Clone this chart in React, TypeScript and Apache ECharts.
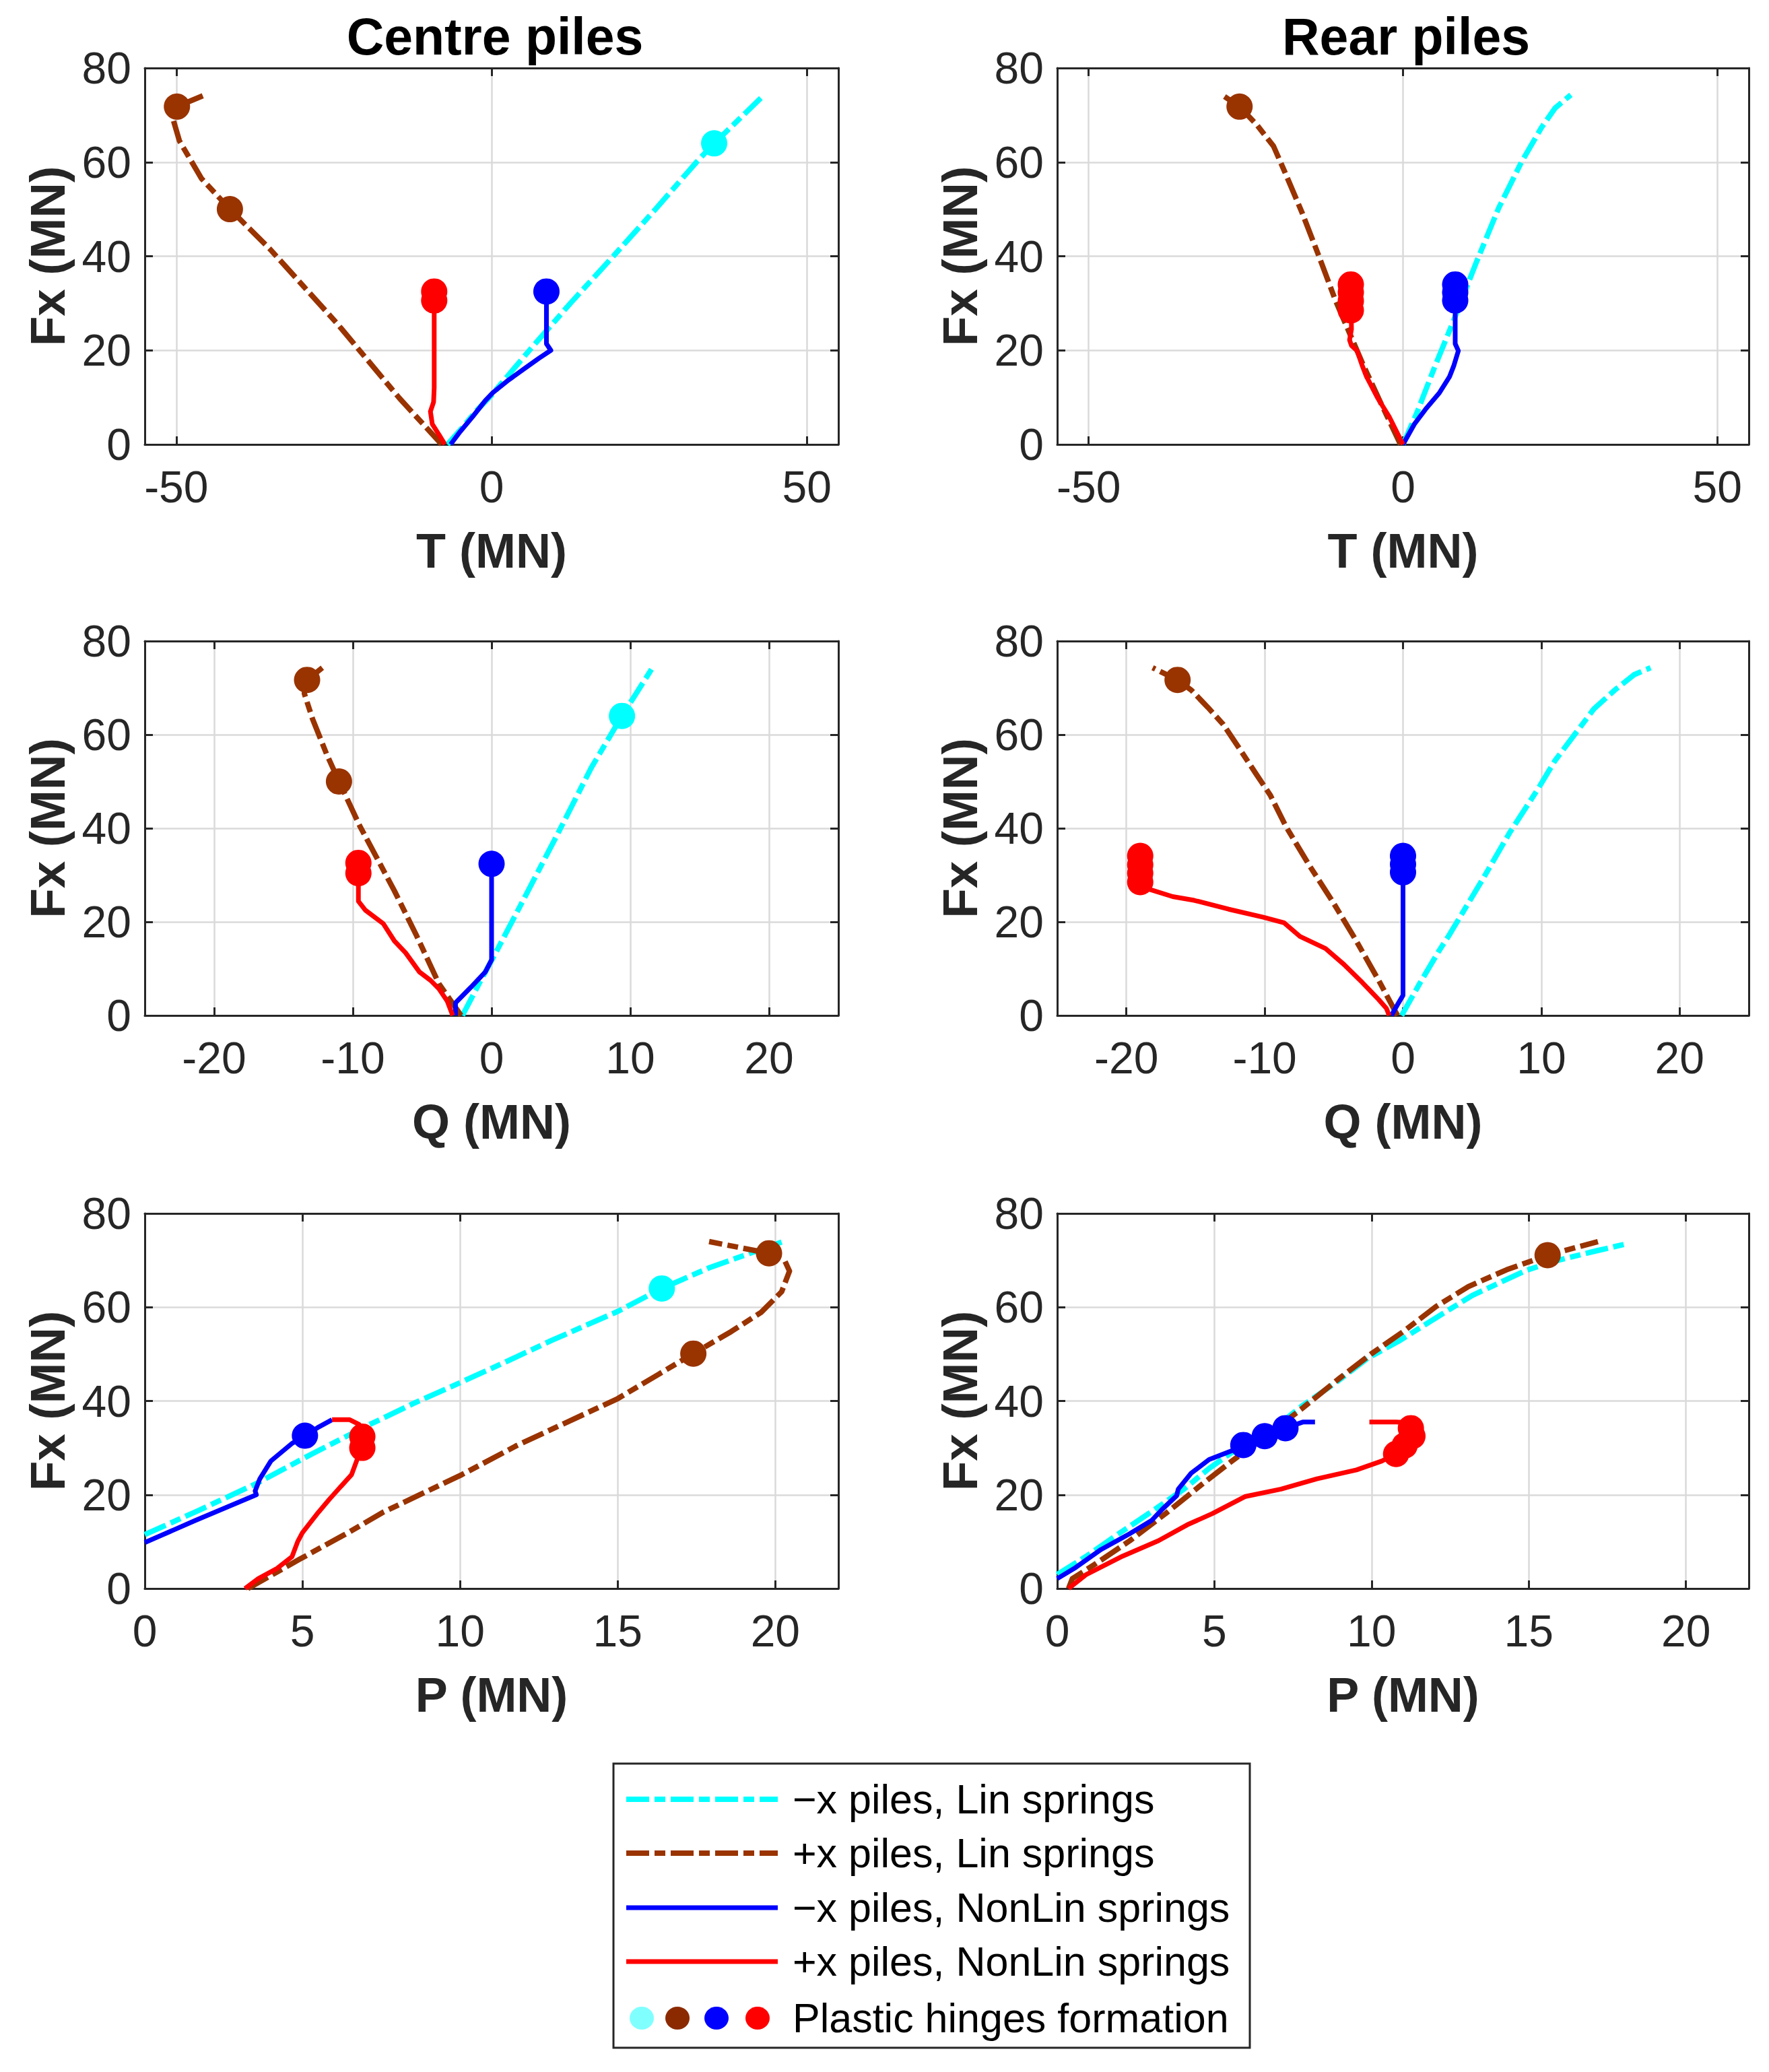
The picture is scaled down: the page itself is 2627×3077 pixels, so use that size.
import React, { useEffect, useRef } from "react";
import * as echarts from "echarts";

// ---------- data (x, Fx) ----------
// Centre piles, T
const cT_linNeg = [[-7, 0], [-5, 3], [-2.5, 7], [0, 10.5], [6, 20], [12.5, 30], [19.3, 40], [26, 50], [32.5, 60], [35.3, 64], [42.7, 73.6]];
const cT_linPos = [[-7.9, 0], [-14.6, 9.8], [-24.5, 25.7], [-35.2, 41.6], [-41.5, 50], [-46, 56.5], [-49.5, 64.5], [-50.6, 69.5], [-49.9, 71.8], [-45.8, 74.1]];
const cT_nonNeg = [[-6.5, 0], [-5, 2.7], [-3, 5.9], [-1, 9.3], [0.2, 11], [2.5, 13.5], [5.1, 16], [7.5, 18.3], [9.4, 20], [8.7, 21.4], [8.7, 32.5]];
const cT_nonPos = [[-7.4, 0], [-8.3, 2], [-9.4, 4.3], [-9.7, 7], [-9.2, 9], [-9.1, 12], [-9.1, 30.6], [-9.1, 32.5]];
const cT_hCyan = [[35.3, 64]];
const cT_hBrown = [[-41.5, 50], [-49.9, 71.8]];
const cT_hBlue = [[8.7, 32.5]];
const cT_hRed = [[-9.1, 30.6], [-9.1, 32.5]];

// Rear piles, T
const rT_linNeg = [[0, 0], [2.2, 6.7], [4.9, 16], [8.1, 26.5], [11.6, 38.5], [15.2, 50.2], [18.8, 59.9], [22, 67.3], [24.2, 71.5], [26.7, 74.3]];
const rT_linPos = [[-0.4, 0], [-3.6, 9], [-6.3, 16.8], [-10.8, 30.8], [-13.4, 40.1], [-16.1, 49.4], [-18.8, 57.9], [-20.6, 63.4], [-23.3, 68], [-26, 71.8], [-28.9, 74.4]];
const rT_nonNeg = [[0, 0], [1.8, 4.3], [3.6, 7.5], [5.8, 11], [7.4, 14.4], [8.1, 16.8], [8.8, 19.9], [8.3, 21.4], [8.3, 34]];
const rT_nonPos = [[0, 0], [-2.2, 5.9], [-4, 9.8], [-5.8, 14.4], [-6.5, 16.8], [-7.3, 19.9], [-8.2, 21], [-8.5, 22.2], [-8.2, 24.5], [-8.3, 34]];
const rT_hCyan: number[][] = [];
const rT_hBrown = [[-26, 71.8]];
const rT_hBlue = [[8.3, 30.6], [8.3, 32.3], [8.3, 34]];
const rT_hRed = [[-8.3, 28.5], [-8.3, 30.5], [-8.3, 32.3], [-8.3, 34]];

// Centre piles, Q
const cQ_linNeg = [[-2.1, 0], [-0.9, 6.8], [0.3, 13.4], [2.1, 23.6], [4.8, 39], [7.2, 53], [9.4, 64], [11.6, 74.3]];
const cQ_linPos = [[-2.2, 0], [-3.8, 6.8], [-5.4, 17], [-7, 26.6], [-9.5, 40.5], [-11, 50], [-11.9, 55.9], [-12.9, 63.3], [-13.5, 68.8], [-13.3, 71.7], [-12.2, 74.3]];
const cQ_nonNeg = [[-2.6, 0], [-2.6, 2.7], [-1.5, 6], [-0.45, 9.3], [0, 11.9], [0, 32.4]];
const cQ_nonPos = [[-2.8, 0], [-3.2, 3.1], [-3.8, 5.7], [-4.4, 7.5], [-5.2, 9.3], [-6.2, 13.4], [-7, 15.9], [-7.8, 19.6], [-9.1, 22.5], [-9.6, 24.4], [-9.6, 32.6]];
const cQ_hCyan = [[9.4, 64]];
const cQ_hBrown = [[-11, 50], [-13.3, 71.7]];
const cQ_hBlue = [[0, 32.4]];
const cQ_hRed = [[-9.6, 30.4], [-9.6, 32.6]];

// Rear piles, Q
const rQ_linNeg = [[-0.1, 0], [1.2, 6.8], [2.6, 13.8], [3.3, 17], [5.7, 28.8], [7.7, 39], [9.8, 48.6], [11, 54.5], [12.4, 60], [13.8, 65.5], [15.3, 69.5], [16.7, 72.8], [17.9, 74.3]];
const rQ_linPos = [[-0.4, 0], [-1.76, 7.5], [-3.43, 16.2], [-5.1, 24.4], [-6.78, 32.1], [-8.45, 40.3], [-9.6, 47.1], [-10.6, 51.5], [-11.8, 56.9], [-13, 62.2], [-14.1, 65.8], [-15.3, 69.5], [-16.3, 71.7], [-18.1, 74.3]];
const rQ_nonNeg = [[-0.84, 0], [-0.4, 2.3], [0, 4.3], [0, 34.1]];
const rQ_nonPos = [[-1, 0], [-1.2, 1.5], [-1.76, 3.4], [-2.93, 7], [-4.27, 10.9], [-5.6, 14.3], [-7.45, 16.9], [-8.6, 19.8], [-10.1, 21], [-12.6, 22.7], [-15.1, 24.6], [-16.65, 25.4], [-18.5, 27.1], [-19, 28.5], [-19, 34.1]];
const rQ_hCyan: number[][] = [];
const rQ_hBrown = [[-16.3, 71.7]];
const rQ_hBlue = [[0, 30.6], [0, 32.3], [0, 34.1]];
const rQ_hRed = [[-19, 28.5], [-19, 30.4], [-19, 32.2], [-19, 34.1]];

// Centre piles, P
const cP_linNeg = [[0, 11.5], [1.66, 16.5], [3.54, 22.4], [5.3, 28.7], [7.08, 34.8], [8.5, 39.4], [10, 43.9], [11.5, 48.5], [12.9, 52.9], [15, 59.1], [16.4, 64], [17.9, 68.4], [20.2, 73.9]];
const cP_linPos = [[3.27, 0], [4.9, 6.2], [6.5, 12.1], [7.54, 16.2], [10.06, 24.3], [11.8, 30.5], [13.4, 35.5], [15, 40.5], [16.3, 45.7], [17.4, 50.1], [18.6, 54.8], [19.55, 58.9], [20.2, 63.3], [20.45, 67.7], [20.3, 69.9], [19.8, 71.5], [17.9, 74]];
const cP_nonNeg = [[0, 9.8], [1.6, 14.5], [3.54, 20], [3.5, 20.8], [3.65, 23.4], [4, 27.2], [4.68, 31], [5.08, 32.6], [5.48, 34.3], [5.94, 36]];
const cP_nonPos = [[3.18, 0], [3.6, 2.1], [4.2, 4.3], [4.67, 6.8], [4.85, 10], [5, 11.9], [5.5, 16.2], [5.85, 19], [6.17, 21.4], [6.56, 24.3], [6.74, 27.6], [6.9, 30], [6.9, 32.4], [6.8, 35], [6.5, 36], [5.94, 36]];
const cP_hCyan = [[16.4, 64]];
const cP_hBrown = [[17.4, 50.1], [19.8, 71.5]];
const cP_hBlue = [[5.08, 32.6]];
const cP_hRed = [[6.9, 30], [6.9, 32.4]];

// Rear piles, P
const rP_linNeg = [[0, 3], [0.93, 6.9], [1.96, 11.7], [3, 16.4], [4.03, 21.2], [4.83, 25.6], [5.74, 29.9], [6.9, 34.2], [7.8, 39], [8.84, 43.8], [9.87, 49.1], [10.9, 52.9], [12.04, 57.7], [13.2, 62.5], [14.9, 67.8], [15.8, 69.8], [17.2, 72.1], [18.1, 73.5]];
const rP_linPos = [[0.36, 0], [0.48, 2.1], [1.16, 5], [2.31, 10.2], [3.45, 16], [4.6, 22.2], [5.52, 27], [6.78, 33.2], [7.81, 38.5], [8.95, 44.7], [9.98, 50], [11.01, 54.8], [12.04, 60.1], [13.08, 64.4], [14.3, 68], [15.6, 71.1], [17.2, 74]];
const rP_nonNeg = [[0, 2.1], [0.59, 4.5], [1.39, 8.3], [2.31, 11.7], [3, 14.5], [3.34, 16.9], [3.8, 19.8], [3.85, 21.2], [4.26, 24.6], [4.83, 27.5], [5.63, 29.6], [5.92, 30.6], [6.6, 32.5], [7.26, 34.2], [7.81, 35.5], [8.2, 35.5]];
const rP_nonPos = [[0.36, 0], [0.93, 3], [2.08, 6.9], [3.22, 10.2], [4.14, 13.6], [4.94, 16], [5.97, 19.6], [7.12, 21.2], [8.26, 23.4], [9.52, 25.3], [10.33, 27.2], [10.78, 28.7], [11.01, 30.4], [11.3, 32.8], [11.24, 34.2], [11.1, 35.4], [10.78, 35.5], [9.93, 35.5]];
const rP_hCyan: number[][] = [];
const rP_hBrown = [[15.6, 71.1]];
const rP_hBlue = [[5.92, 30.6], [6.6, 32.5], [7.26, 34.2]];
const rP_hRed = [[10.78, 28.7], [11.05, 30.5], [11.3, 32.5], [11.25, 34.2]];

// ---------- axes / labels ----------
const T_TICKS = [-50, 0, 50];
const Q_TICKS = [-20, -10, 0, 10, 20];
const P_TICKS = [0, 5, 10, 15, 20];
const FX_TICKS = [0, 20, 40, 60, 80];
const COLUMN_TITLES = ["Centre piles", "Rear piles"];
const LEGEND_LABELS = [
  "\u2212x piles, Lin springs",
  "+x piles, Lin springs",
  "\u2212x piles, NonLin springs",
  "+x piles, NonLin springs",
  "Plastic hinges formation",
];

const C_CYAN = "#00ffff";
const C_BROWN = "#993300";
const C_BLUE = "#0000ff";
const C_RED = "#ff0000";
const FONT = "'Liberation Sans', Arial, Helvetica, sans-serif";
const AX = "#262626";
const LIN_DASH = [34, 8, 16, 8];

const panels = [
  { left: 215, top: 101, width: 1030, height: 559, min: -55, max: 55, ticks: T_TICKS, name: "T (MN)", lines: [cT_linNeg, cT_linPos, cT_nonNeg, cT_nonPos], hinges: [cT_hCyan, cT_hBrown, cT_hBlue, cT_hRed] },
  { left: 1570, top: 101, width: 1027, height: 559, min: -55, max: 55, ticks: T_TICKS, name: "T (MN)", lines: [rT_linNeg, rT_linPos, rT_nonNeg, rT_nonPos], hinges: [rT_hCyan, rT_hBrown, rT_hBlue, rT_hRed] },
  { left: 215, top: 952, width: 1030, height: 556, min: -25, max: 25, ticks: Q_TICKS, name: "Q (MN)", lines: [cQ_linNeg, cQ_linPos, cQ_nonNeg, cQ_nonPos], hinges: [cQ_hCyan, cQ_hBrown, cQ_hBlue, cQ_hRed] },
  { left: 1570, top: 952, width: 1027, height: 556, min: -25, max: 25, ticks: Q_TICKS, name: "Q (MN)", lines: [rQ_linNeg, rQ_linPos, rQ_nonNeg, rQ_nonPos], hinges: [rQ_hCyan, rQ_hBrown, rQ_hBlue, rQ_hRed] },
  { left: 215, top: 1802, width: 1030, height: 557, min: 0, max: 22, ticks: P_TICKS, name: "P (MN)", lines: [cP_linNeg, cP_linPos, cP_nonNeg, cP_nonPos], hinges: [cP_hCyan, cP_hBrown, cP_hBlue, cP_hRed] },
  { left: 1570, top: 1802, width: 1027, height: 557, min: 0, max: 22, ticks: P_TICKS, name: "P (MN)", lines: [rP_linNeg, rP_linPos, rP_nonNeg, rP_nonPos], hinges: [rP_hCyan, rP_hBrown, rP_hBlue, rP_hRed] },
];

const LINE_COLORS = [C_CYAN, C_BROWN, C_BLUE, C_RED];
const LINE_DASHED = [true, true, false, false];
const LINE_WIDTHS = [8, 8, 7, 7];
const HINGE_COLORS = [C_CYAN, C_BROWN, C_BLUE, C_RED];
const LEGEND_HINGE_COLORS = ["#80ffff", "#8b2a00", C_BLUE, C_RED];

function buildOption() {
  const grid: any[] = [];
  const xAxis: any[] = [];
  const yAxis: any[] = [];
  const series: any[] = [];
  const axisLine = { show: true, onZero: false, lineStyle: { color: AX, width: 3 } };
  panels.forEach((p, g) => {
    grid.push({ left: p.left, top: p.top, width: p.width, height: p.height, containLabel: false });
    xAxis.push({
      type: "value", gridIndex: g, position: "bottom", min: p.min, max: p.max,
      name: p.name, nameLocation: "middle", nameGap: 122,
      nameTextStyle: { fontFamily: FONT, fontWeight: "bold", fontSize: 72, color: AX },
      axisLine,
      axisTick: { show: true, inside: true, length: 12, customValues: p.ticks, lineStyle: { color: AX, width: 3 } },
      axisLabel: { show: true, customValues: p.ticks, margin: 30, fontSize: 66, color: AX, fontFamily: FONT },
      splitLine: { show: true, lineStyle: { color: "#dadada", width: 2.5 } },
    });
    xAxis.push({
      type: "value", gridIndex: g, position: "top", min: p.min, max: p.max,
      axisLine,
      axisTick: { show: true, inside: true, length: 12, customValues: p.ticks, lineStyle: { color: AX, width: 3 } },
      axisLabel: { show: false },
      splitLine: { show: false },
    });
    yAxis.push({
      type: "value", gridIndex: g, position: "left", min: 0, max: 80, interval: 20,
      name: "Fx (MN)", nameLocation: "middle", nameGap: 108,
      nameTextStyle: { fontFamily: FONT, fontWeight: "bold", fontSize: 73, color: AX },
      axisLine,
      axisTick: { show: true, inside: true, length: 12, customValues: FX_TICKS, lineStyle: { color: AX, width: 3 } },
      axisLabel: { show: true, customValues: FX_TICKS, margin: 20, fontSize: 66, color: AX, fontFamily: FONT },
      splitLine: { show: true, lineStyle: { color: "#dadada", width: 2.5 } },
    });
    yAxis.push({
      type: "value", gridIndex: g, position: "right", min: 0, max: 80, interval: 20,
      axisLine,
      axisTick: { show: true, inside: true, length: 12, customValues: FX_TICKS, lineStyle: { color: AX, width: 3 } },
      axisLabel: { show: false },
      splitLine: { show: false },
    });
    p.lines.forEach((d, i) => {
      series.push({
        type: "line", xAxisIndex: 2 * g, yAxisIndex: 2 * g, data: d,
        showSymbol: false, symbol: "none", clip: true, silent: true, z: 3,
        lineStyle: { color: LINE_COLORS[i], width: LINE_WIDTHS[i], type: LINE_DASHED[i] ? LIN_DASH : "solid", cap: "butt", join: "round", opacity: 1 },
      });
    });
    p.hinges.forEach((d, i) => {
      if (!d.length) return;
      series.push({
        type: "scatter", xAxisIndex: 2 * g, yAxisIndex: 2 * g, data: d,
        symbol: "circle", symbolSize: 39, silent: true, z: 5,
        itemStyle: { color: HINGE_COLORS[i], opacity: 1 },
      });
    });
  });

  const title = COLUMN_TITLES.map((t, i) => ({
    text: t, left: i === 0 ? 730 : 2083, top: 10, textAlign: "center",
    textStyle: { fontFamily: FONT, fontWeight: "bold", fontSize: 77, color: "#000" },
  }));

  // legend box
  const lx = 911, ly = 2619, lw = 945, lh = 422;
  const rowsY = [2672, 2752, 2833, 2913, 2997];
  const graphic: any[] = [
    { type: "rect", shape: { x: lx, y: ly, width: lw, height: lh }, style: { fill: "#fff", stroke: AX, lineWidth: 3 }, z: 10 },
  ];
  for (let i = 0; i < 4; i++) {
    graphic.push({
      type: "line", shape: { x1: 930, y1: rowsY[i], x2: 1155, y2: rowsY[i] },
      style: { stroke: LINE_COLORS[i], lineWidth: LINE_WIDTHS[i], lineDash: LINE_DASHED[i] ? LIN_DASH : null }, z: 11,
    });
  }
  const hx = [953, 1006, 1064, 1125];
  hx.forEach((cx, i) => {
    graphic.push({ type: "ellipse", shape: { cx, cy: rowsY[4], rx: 18, ry: 17 }, style: { fill: LEGEND_HINGE_COLORS[i] }, z: 11 });
  });
  LEGEND_LABELS.forEach((t, i) => {
    graphic.push({
      type: "text", x: 1177, y: rowsY[i], z: 11,
      style: { text: t, fontSize: 61, fontFamily: FONT, fill: "#000", verticalAlign: "middle", align: "left" },
    });
  });

  return { animation: false, backgroundColor: "#ffffff", title, grid, xAxis, yAxis, series, graphic };
}

export default function App() {
  const ref = useRef<HTMLDivElement>(null);
  useEffect(() => {
    if (!ref.current) return;
    const chart = echarts.init(ref.current, null, { renderer: "svg" });
    chart.setOption(buildOption() as any);
    return () => chart.dispose();
  }, []);
  return (
    <div
      ref={ref}
      style={{ position: "absolute", left: 0, top: 0, width: 2627, height: 3077, background: "#fff" }}
    />
  );
}
